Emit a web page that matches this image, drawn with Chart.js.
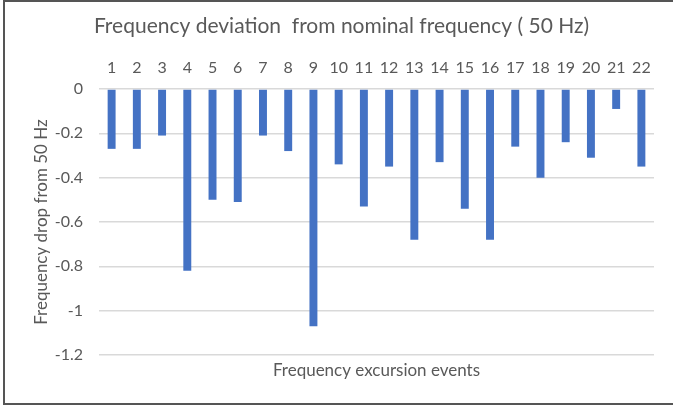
<!DOCTYPE html>
<html>
<head>
<meta charset="utf-8">
<script src="https://cdn.jsdelivr.net/npm/chart.js@4"></script>
<style>
  html, body { margin: 0; padding: 0; background: #ffffff; }
  #wrap { position: relative; width: 673px; height: 405px; overflow: hidden; }
  #c { position: absolute; left: 0; top: 0; }
  #frame { position: absolute; left: 3px; top: 0px; width: 680px; height: 401px;
           border-left: 2px solid #555555; border-top: 2px solid #555555; border-bottom: 2px solid #555555;
           pointer-events: none; }
</style>
</head>
<body>
<div id="wrap">
  <canvas id="c" width="673" height="405"></canvas>
  <div id="frame"></div>
</div>
<script>
const categories = ['1','2','3','4','5','6','7','8','9','10','11','12','13','14','15','16','17','18','19','20','21','22'];
const frequencyDrop = [-0.27,-0.27,-0.21,-0.82,-0.50,-0.51,-0.21,-0.28,-1.07,-0.34,-0.53,-0.35,-0.68,-0.33,-0.54,-0.68,-0.26,-0.40,-0.24,-0.31,-0.09,-0.35];
const yTicks = [0, -0.2, -0.4, -0.6, -0.8, -1, -1.2];
const chartTitle = 'Frequency deviation  from nominal frequency ( 50 Hz)';
const yTitle = 'Frequency drop from 50 Hz';
const xTitle = 'Frequency excursion events';

const FONT = 'Lato, "Open Sans", sans-serif';
const GREY = '#595959';

// Chart title drawn on the canvas, centred like the original Office chart title
const titlePlugin = {
  id: 'officeTitle',
  afterDraw(chart) {
    const ctx = chart.ctx;
    ctx.save();
    ctx.fillStyle = GREY;
    ctx.font = '21px ' + FONT;
    ctx.textAlign = 'center';
    ctx.textBaseline = 'middle';
    ctx.fillText(chartTitle, 341.5, 26);
    ctx.restore();
  }
};

new Chart(document.getElementById('c'), {
  type: 'bar',
  data: {
    labels: categories,
    datasets: [{
      data: frequencyDrop,
      backgroundColor: '#4472c4',
      borderWidth: 0,
      barPercentage: 0.63,
      categoryPercentage: 0.5,
      xAxisID: 'x',
      yAxisID: 'y'
    }]
  },
  plugins: [titlePlugin],
  options: {
    responsive: false,
    animation: false,
    devicePixelRatio: 1,
    layout: { padding: { left: 0, top: 0, right: 19, bottom: 0 } },
    plugins: {
      legend: { display: false },
      tooltip: { enabled: false },
      title: { display: false }
    },
    scales: {
      x: {
        type: 'category',
        position: 'top',
        grid: { display: false, drawTicks: false },
        border: { display: false },
        ticks: { color: GREY, font: { family: FONT, size: 16 }, padding: 11.4, maxRotation: 0, autoSkip: false },
        afterFit: (s) => { s.height = 89; }
      },
      xb: {
        type: 'category',
        position: 'bottom',
        labels: categories,
        grid: { display: false, drawTicks: false },
        border: { display: false },
        ticks: { display: false },
        title: { display: true, text: xTitle, color: GREY, font: { family: FONT, size: 17 }, padding: { top: 0, bottom: 23.8 } },
        afterFit: (s) => { s.height = 50; }
      },
      y: {
        min: -1.2,
        max: 0,
        grid: { color: '#d9d9d9', lineWidth: 1.5, drawTicks: false },
        border: { display: false },
        ticks: {
          color: GREY,
          font: { family: FONT, size: 16 },
          padding: 16,
          stepSize: 0.2,
          callback: (v) => { const r = Math.round(v * 10) / 10; return yTicks.includes(r) ? String(r) : ''; }
        },
        title: { display: true, text: yTitle, color: GREY, font: { family: FONT, size: 17 }, padding: { top: 31.8, bottom: 0 } },
        afterFit: (s) => { s.width = 99; }
      }
    }
  }
});
</script>
</body>
</html>
